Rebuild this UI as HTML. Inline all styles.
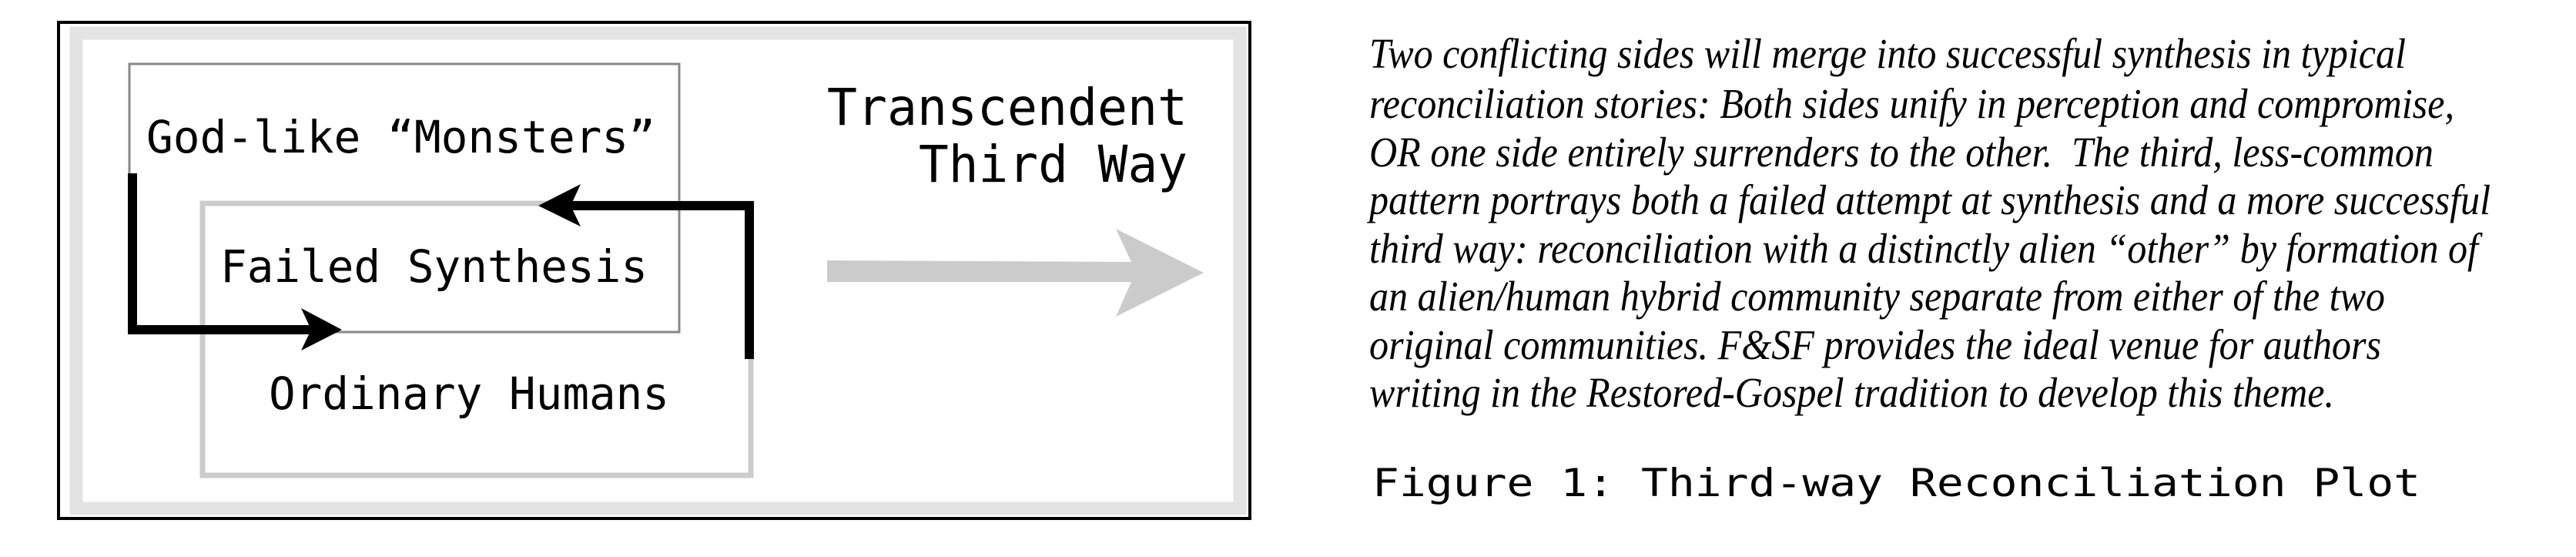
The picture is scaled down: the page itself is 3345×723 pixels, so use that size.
<!DOCTYPE html>
<html><head><meta charset="utf-8"><style>
html,body{margin:0;padding:0;background:#fff;width:3345px;height:723px;overflow:hidden}
svg{display:block}
.m{font-family:"DejaVu Sans Mono","Liberation Mono",monospace;fill:#000}
.s{font-family:"Liberation Serif",serif;font-style:italic;fill:#000;font-size:55px}
</style></head><body>
<svg width="3345" height="723" viewBox="0 0 3345 723" xmlns="http://www.w3.org/2000/svg">
<rect x="0" y="0" width="3345" height="723" fill="#fff"/>
<rect x="76" y="29" width="1547" height="644" fill="none" stroke="#000" stroke-width="4"/>
<rect x="99" y="43" width="1511" height="617" fill="none" stroke="#e3e3e3" stroke-width="17"/>
<rect x="168" y="83" width="714" height="348" fill="none" stroke="#888" stroke-width="3"/>
<rect x="263" y="264" width="712" height="353" fill="none" stroke="#ccc" stroke-width="7"/>
<polyline points="172,225 172,428 410,428" fill="none" stroke="#000" stroke-width="12"/>
<polygon points="444,428 391,400 404,428 391,455" fill="#000"/>
<polyline points="973,466 973,267 735,267" fill="none" stroke="#000" stroke-width="12"/>
<polygon points="699,267 754,239 741,267 754,294" fill="#000"/>
<polygon points="1074,338 1469,340 1449,297 1563,354 1449,411 1469,366 1074,366" fill="#cbcbcb"/>
<text class="m" x="190" y="198" font-size="58" textLength="661" lengthAdjust="spacingAndGlyphs">God-like “Monsters”</text>
<text class="m" x="286" y="366" font-size="58" textLength="555" lengthAdjust="spacingAndGlyphs">Failed Synthesis</text>
<text class="m" x="349" y="531" font-size="58" textLength="520" lengthAdjust="spacingAndGlyphs">Ordinary Humans</text>
<text class="m" x="1074" y="162" font-size="66" textLength="468" lengthAdjust="spacingAndGlyphs">Transcendent</text>
<text class="m" x="1193" y="236" font-size="66" textLength="349" lengthAdjust="spacingAndGlyphs">Third Way</text>
<text class="s" x="1778" y="88" textLength="1346" lengthAdjust="spacingAndGlyphs">Two conflicting sides will merge into successful synthesis in typical</text>
<text class="s" x="1778" y="153" textLength="1409" lengthAdjust="spacingAndGlyphs">reconciliation stories: Both sides unify in perception and compromise,</text>
<text class="s" x="1778" y="216" textLength="1382" lengthAdjust="spacingAndGlyphs" xml:space="preserve">OR one side entirely surrenders to the other.  The third, less-common</text>
<text class="s" x="1778" y="278" textLength="1456" lengthAdjust="spacingAndGlyphs">pattern portrays both a failed attempt at synthesis and a more successful</text>
<text class="s" x="1778" y="341" textLength="1440" lengthAdjust="spacingAndGlyphs">third way: reconciliation with a distinctly alien “other” by formation of</text>
<text class="s" x="1778" y="403" textLength="1319" lengthAdjust="spacingAndGlyphs">an alien/human hybrid community separate from either of the two</text>
<text class="s" x="1778" y="466" textLength="1314" lengthAdjust="spacingAndGlyphs">original communities. F&amp;SF provides the ideal venue for authors</text>
<text class="s" x="1778" y="528" textLength="1253" lengthAdjust="spacingAndGlyphs">writing in the Restored-Gospel tradition to develop this theme.</text>
<text class="m" x="1782" y="644" font-size="50" textLength="1361" lengthAdjust="spacingAndGlyphs">Figure 1: Third-way Reconciliation Plot</text>
</svg>
</body></html>
